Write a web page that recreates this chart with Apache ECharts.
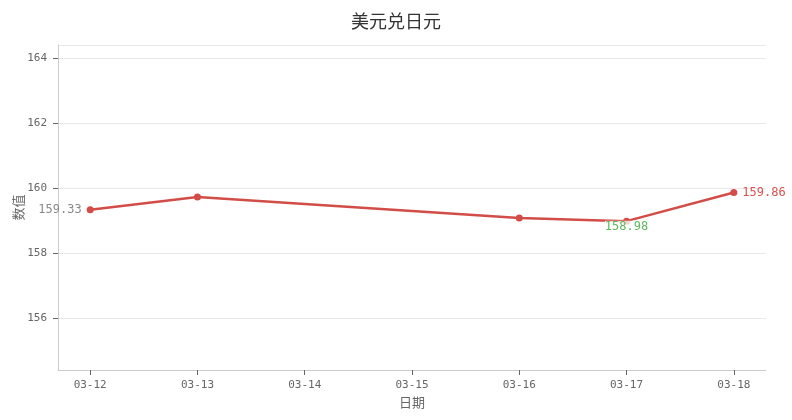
<!DOCTYPE html>
<html>
<head>
<meta charset="utf-8">
<script src="https://cdn.jsdelivr.net/npm/echarts@6/dist/echarts.min.js"></script>
<style>html,body{margin:0;padding:0;background:#fff}#c{width:792px;height:420px}</style>
</head>
<body>
<div id="c"></div>
<script>
var year = 2026;
var dates = ['03-12', '03-13', '03-16', '03-17', '03-18'];
var values = [159.33, 159.72, 159.08, 158.98, 159.86];
var axisStart = '03-12';
var axisEnd = '03-18';
var titleText = '美元兑日元';
var xName = '日期';
var yName = '数值';
var yMin = 154.4;
var yMax = 164.4;

var DAY = 86400000;
function toTime(s) {
  var p = s.split('-');
  return new Date(year, parseInt(p[0], 10) - 1, parseInt(p[1], 10)).getTime();
}
var FONT = "'DejaVu Sans Mono', 'Noto Sans CJK SC', monospace";
var CJK = "'Noto Sans CJK SC', sans-serif";

var minIdx = 0, maxIdx = 0;
values.forEach(function (v, i) {
  if (v < values[minIdx]) minIdx = i;
  if (v > values[maxIdx]) maxIdx = i;
});

var data = dates.map(function (d, i) {
  var item = { value: [toTime(d), values[i]] };
  if (i === 0) {
    item.label = { show: true, position: 'left', distance: 5, color: '#888', fontSize: 12, fontFamily: FONT };
  }
  if (i === minIdx) {
    item.label = { show: true, position: 'bottom', distance: 0, offset: [0, -4], color: '#5cb85c', fontSize: 12, fontFamily: FONT,
      backgroundColor: 'rgba(255,255,255,0.75)' };
  }
  if (i === maxIdx) {
    item.label = { show: true, position: 'right', distance: 5, color: '#d9534f', fontSize: 12, fontFamily: FONT };
  }
  return item;
});

var chart = echarts.init(document.getElementById('c'));
chart.setOption({
  animation: false,
  backgroundColor: '#fff',
  title: {
    text: titleText, left: 'center', top: 7,
    textStyle: { fontSize: 18, fontWeight: 'normal', color: '#333', fontFamily: CJK }
  },
  grid: { left: 58, right: 26, top: 45, bottom: 50, outerBoundsMode: 'none' },
  xAxis: {
    type: 'time',
    min: toTime(axisStart) - 0.3 * DAY,
    max: toTime(axisEnd) + 0.3 * DAY,
    minInterval: DAY, maxInterval: DAY,
    name: xName, nameLocation: 'middle', nameGap: 26,
    nameTextStyle: { color: '#666', fontSize: 13, fontFamily: CJK },
    axisLine: { show: true, lineStyle: { color: '#ccc' } },
    axisTick: { show: true, length: 5, lineStyle: { color: '#666' } },
    axisLabel: { formatter: '{MM}-{dd}', color: '#666', fontSize: 11, fontFamily: FONT, margin: 10, showMinLabel: false, showMaxLabel: false },
    splitLine: { show: false }
  },
  yAxis: {
    type: 'value',
    min: yMin, max: yMax,
    name: yName, nameLocation: 'middle', nameGap: 33, nameMoveOverlap: false,
    nameTextStyle: { color: '#666', fontSize: 13, fontFamily: CJK },
    axisLine: { show: true, lineStyle: { color: '#ccc' } },
    axisTick: { show: true, length: 5, lineStyle: { color: '#666' } },
    axisLabel: { color: '#666', fontSize: 11, fontFamily: FONT, margin: 11, showMinLabel: false, showMaxLabel: false,
      formatter: function (v) { return Math.abs(v - Math.round(v)) < 1e-6 ? String(Math.round(v)) : ''; } },
    splitLine: { show: true, lineStyle: { color: '#e8e8e8' } }
  },
  series: [{
    type: 'line',
    data: data,
    symbol: 'circle',
    symbolSize: 7,
    lineStyle: { color: '#d24d47', width: 2.5 },
    itemStyle: { color: '#d24d47' },
    label: { show: false }
  }]
});
</script>
</body>
</html>
